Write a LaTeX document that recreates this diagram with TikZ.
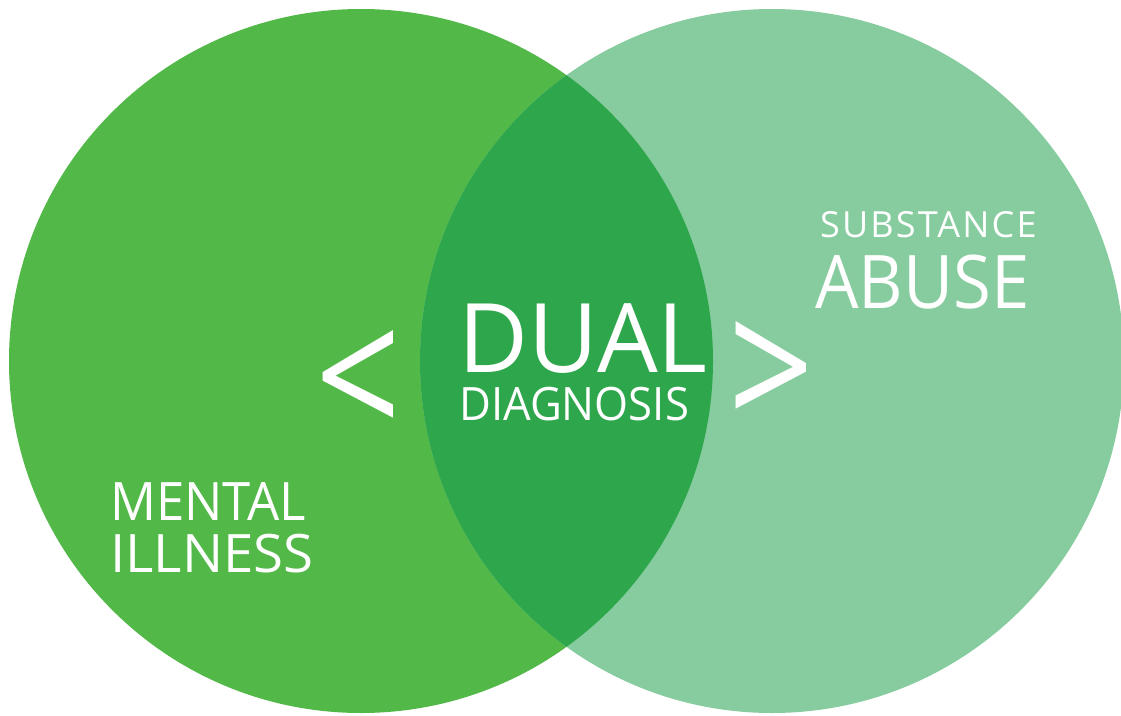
\documentclass[tikz,border=0pt]{standalone}
\usepackage{fontspec}
\setmainfont{Open Sans}
\definecolor{leftgreen}{RGB}{82,184,72}
\definecolor{rightgreen}{RGB}{134,204,158}
\definecolor{midgreen}{RGB}{46,166,75}
\begin{document}
\begin{tikzpicture}[x=1pt,y=-1pt,
  lbl/.style={text=white, inner sep=0pt, anchor=base west, text depth=0pt}]
\useasboundingbox (0,0) rectangle (1121,715);
\clip (0,0) rectangle (1121,715);
\fill[leftgreen] (361,361) circle[radius=352];
\fill[rightgreen] (772,361) circle[radius=352];
\begin{scope}
  \clip (361,361) circle[radius=352];
  \fill[midgreen] (772,361) circle[radius=352];
\end{scope}
\node[lbl, font=\fontsize{96}{96}\selectfont, text height=69pt] (dual) at (458,372) {DUAL};
\node[lbl, font=\fontsize{46}{46}\selectfont, text height=33pt, xscale=0.95] (diag) at (459,420) {DIAGNOSIS};
\node[lbl, font=\fontsize{36}{36}\selectfont\addfontfeature{LetterSpace=6}, text height=26pt] (subst) at (820,237) {SUBSTANCE};
\node[lbl, font=\fontsize{74}{74}\selectfont, text height=53pt, xscale=0.93] (abuse) at (815,308) {ABUSE};
\node[lbl, font=\fontsize{53}{53}\selectfont, text height=38pt, xscale=0.96] (mental) at (110,520) {MENTAL};
\node[lbl, font=\fontsize{53}{53}\selectfont, text height=38pt, xscale=1.03] (illness) at (110,572) {ILLNESS};
\node[text=white, inner sep=0pt, font=\fontsize{150}{150}\selectfont, yscale=1.2] (lt) at (358,385) {<};
\node[text=white, inner sep=0pt, font=\fontsize{150}{150}\selectfont, yscale=1.2] (gt) at (771,376) {>};
\end{tikzpicture}
\end{document}
